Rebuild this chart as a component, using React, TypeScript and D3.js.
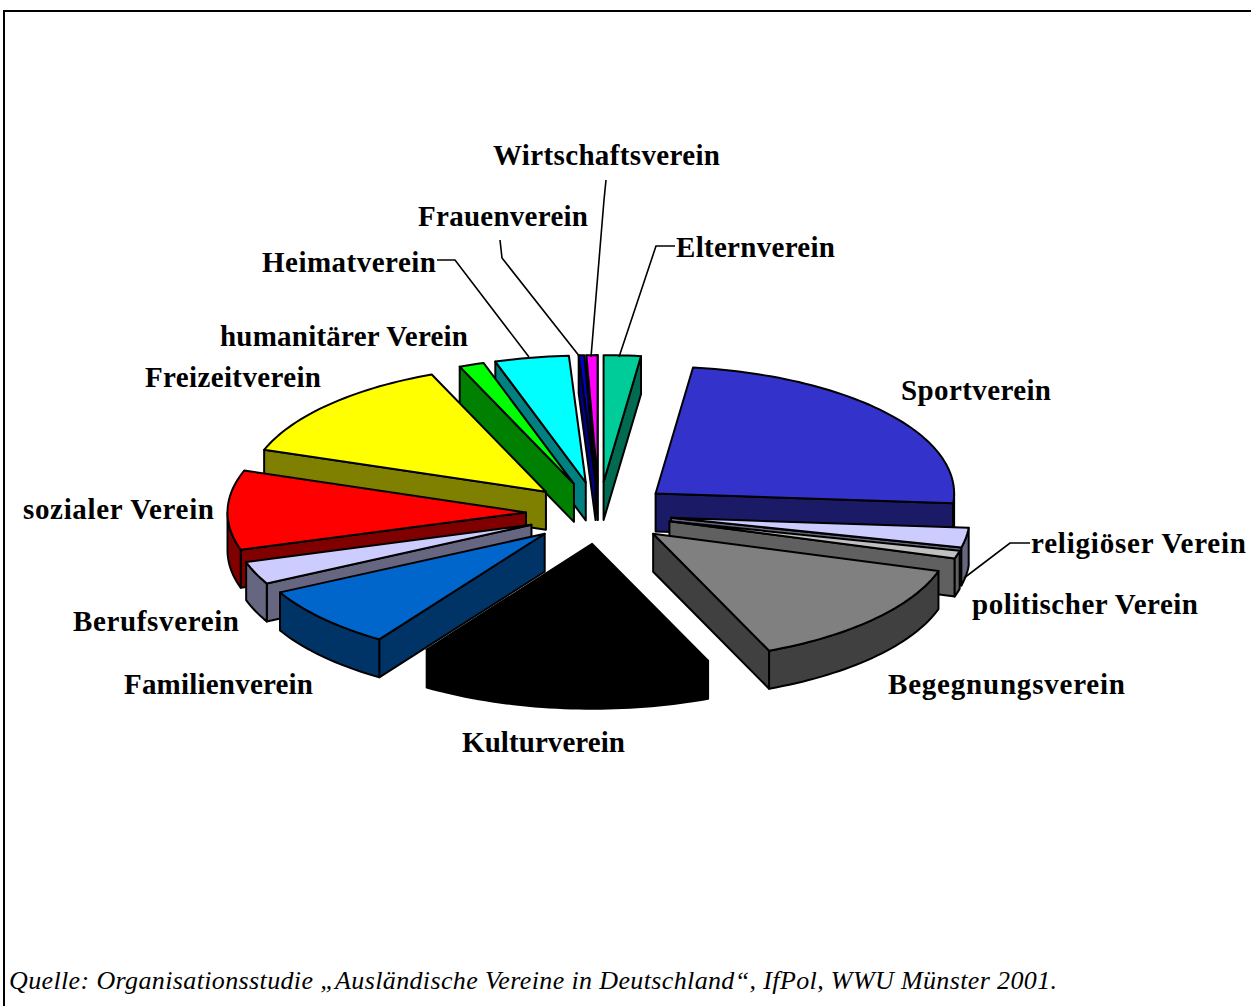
import React from "react";
import * as d3 from "d3";

const categories = ["Elternverein","Sportverein","religiöser Verein","politischer Verein","Begegnungsverein","Kulturverein","Familienverein","Berufsverein","sozialer Verein","Freizeitverein","humanitärer Verein","Heimatverein","Frauenverein","Wirtschaftsverein"];
const shares = [2.0,24.25,2.5,1.0,13.9,15.7,8.0,2.9,10.1,13.4,1.35,4.0,0.3,0.6];
const topColors = ["#00CC99","#3333CC","#CCCCFF","#C0C0C0","#808080","#000000","#0066CC","#CCCCFF","#FF0000","#FFFF00","#00FF00","#00FFFF","#0000CC","#FF00FF"];
const wallColors = ["#006B50","#1A1A66","#666680","#606060","#404040","#000000","#003366","#666680","#800000","#808000","#008000","#008080","#000080","#000080"];

const labelLayout = [
  [676,257,159],[901,400,150],[1031,553,215],[972,614,226],[888,694,237],[462,752,163],[124,694,189],
  [73,631,166],[23,519,191],[145,387,176],[220,346,248],[262,272,174],[418,226,170],[493,165,227],
];
const leaders = [
  [[675,246],[656,246],[619,357]],
  [[606,180],[604,200],[591,357]],
  [[500,240],[502,258],[580,357]],
  [[437,260],[455,260],[529,357]],
  [[1030,543],[1010,543],[964,578]],
];

const R = 298.5, K = 0.425, EXPLODE = 73, DEPTH = 38, CX = 599, CY = 513;
const sx = d3.scaleLinear().domain([-1, 1]).range([CX - R, CX + R]);
const sy = d3.scaleLinear().domain([-1, 1]).range([CY - R * K, CY + R * K]);

type Pt = [number, number];
const line = d3.line<Pt>();

function slicePaths(start: number, end: number, color: string, wall: string, key: number) {
  const mid = (start + end) / 2;
  const e = EXPLODE / R;
  const ox = (sx(e * Math.sin(mid)) - sx(0));
  const oy = (sy(-e * Math.cos(mid)) - sy(0));
  const at = (a: number, r = 1): Pt => [sx(r * Math.sin(a)) + ox, sy(-r * Math.cos(a)) + oy];
  const apex = at(0, 0);
  const down = (p: Pt): Pt => [p[0], p[1] + DEPTH];
  const n = Math.max(2, Math.ceil((end - start) * 40));
  const arcAngles = d3.range(n + 1).map((i) => start + ((end - start) * i) / n);
  const rim = arcAngles.map((a) => at(a));
  const top = [apex, ...rim];
  const walls: Pt[][] = [];
  if (Math.sin(start) < 0) walls.push([apex, at(start), down(at(start)), down(apex)]);
  if (Math.sin(end) > 0) walls.push([apex, at(end), down(at(end)), down(apex)]);
  const lo = Math.max(start, Math.PI / 2), hi = Math.min(end, (3 * Math.PI) / 2);
  if (hi > lo) {
    const m = Math.max(2, Math.ceil((hi - lo) * 40));
    const front = d3.range(m + 1).map((i) => at(lo + ((hi - lo) * i) / m));
    walls.push([...front, ...front.slice().reverse().map(down)]);
  }
  return (
    <g key={key} stroke="#000" strokeWidth={2} strokeLinejoin="round">
      {walls.map((w, i) => <path key={i} d={line(w) + "Z"} fill={wall} />)}
      <path d={line(top) + "Z"} fill={color} />
    </g>
  );
}

export default function App() {
  const arcs = d3.pie<number>().sort(null).startAngle(0).endAngle(2 * Math.PI)(shares);
  const order = arcs
    .map((a, i) => ({ a, i }))
    .sort((p, q) => Math.cos((q.a.startAngle + q.a.endAngle) / 2) * -1 - Math.cos((p.a.startAngle + p.a.endAngle) / 2) * -1)
    .reverse();
  return (
    <svg width={1251} height={1006} style={{ position: "absolute", left: 0, top: 0, background: "#fff" }}>
      <path d="M4,1006V11H1251" fill="none" stroke="#000" strokeWidth={2} />
      {order.map(({ a, i }) => slicePaths(a.startAngle, a.endAngle, topColors[i], wallColors[i], i))}
      {leaders.map((l, i) => <path key={i} d={d3.line()(l as Pt[]) as string} fill="none" stroke="#000" strokeWidth={1.6} />)}
      <g fontFamily="'Liberation Serif'" fontWeight="bold" fontSize={29} fill="#000">
        {categories.map((c, i) => (
          <text key={c} x={labelLayout[i][0]} y={labelLayout[i][1]} textLength={labelLayout[i][2]} lengthAdjust="spacing">{c}</text>
        ))}
      </g>
      <text x={9} y={989} fontFamily="'Liberation Serif'" fontStyle="italic" fontSize={26} textLength={1048} lengthAdjust="spacing" fill="#000">
        Quelle: Organisationsstudie „Ausländische Vereine in Deutschland“, IfPol, WWU Münster 2001.
      </text>
    </svg>
  );
}
